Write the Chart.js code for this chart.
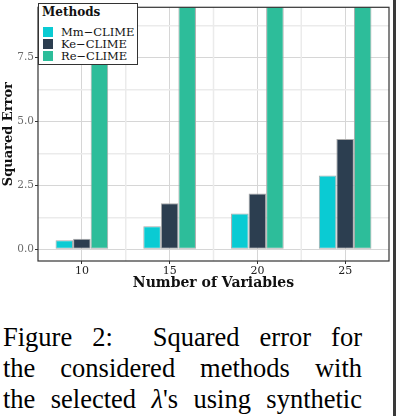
<!DOCTYPE html>
<html>
<head>
<meta charset="utf-8">
<script src="https://cdn.jsdelivr.net/npm/chart.js@4"></script>
<style>
  body { margin: 0; background: #fff; width: 396px; height: 416px; position: relative; overflow: hidden; }
  #wrap { position: absolute; left: 0; top: 0; width: 396px; height: 300px; }
  #legend { position: absolute; left: 38px; top: 3px; width: 100px; height: 62px; box-sizing: border-box;
    border: 1.5px solid #333; background: #fff; font-family: "DejaVu Serif", serif; color: #111; }
  #legend .ttl { position: absolute; left: 3px; top: 1px; font-weight: bold; font-size: 12px; }
  #legend .item { position: absolute; left: 4px; height: 10px; font-size: 11.5px; line-height: 10px; white-space: nowrap; }
  #legend .sw { display: inline-block; width: 10px; height: 10px; vertical-align: top; margin-right: 8px; }
  #caption { position: absolute; left: 3px; top: 322px; width: 359px; font-family: "Liberation Serif", serif;
    font-size: 26.5px; line-height: 31px; color: #000; }
  #caption div { text-align: justify; text-align-last: justify; }
  #edge { position: absolute; left: 393px; top: 0; width: 3px; height: 416px; background: #3a3a3a; }
</style>
</head>
<body>
<div id="wrap"><canvas id="chart" width="396" height="300"></canvas></div>
<div id="legend"><div class="ttl">Methods</div></div>
<div id="caption">
  <div>Figure 2:&nbsp; Squared error for</div>
  <div>the considered methods with</div>
  <div>the selected <i>λ</i>'s using synthetic</div>
</div>
<div id="edge"></div>
<script>
const categories = ['10', '15', '20', '25'];
const seriesNames = ['Mm\u2212CLIME', 'Ke\u2212CLIME', 'Re\u2212CLIME'];
const mmClime = [0.35, 0.90, 1.40, 2.88];
const keClime = [0.41, 1.80, 2.18, 4.31];
const reClime = [12.0, 15.0, 18.0, 22.0];   // run off the top of the panel
const yTicks = [0, 1.25, 2.5, 3.75, 5, 6.25, 7.5, 8.75];
const colors = ['#0acbd3', '#2c3e50', '#2dbd9a'];

const serif = '"DejaVu Serif", serif';
const isMajor = v => Math.abs(v / 2.5 - Math.round(v / 2.5)) < 1e-6;

// minor vertical grid lines between categories + full panel border
const panelPlugin = {
    id: 'panel',
    beforeDatasetsDraw(chart) {
        const { ctx, chartArea, scales: { x } } = chart;
        ctx.save();
        ctx.strokeStyle = '#ebebeb';
        ctx.lineWidth = 1.5;
        for (let i = 0; i < categories.length - 1; i++) {
            const px = (x.getPixelForValue(i) + x.getPixelForValue(i + 1)) / 2;
            ctx.beginPath();
            ctx.moveTo(px, chartArea.top);
            ctx.lineTo(px, chartArea.bottom);
            ctx.stroke();
        }
        ctx.restore();
    },
    afterDraw(chart) {
        const { ctx, chartArea: a } = chart;
        ctx.save();
        ctx.strokeStyle = '#333';
        ctx.lineWidth = 1.2;
        ctx.strokeRect(a.left, a.top, a.right - a.left, a.bottom - a.top);
        ctx.restore();
    }
};

const chart = new Chart(document.getElementById('chart'), {
    type: 'bar',
    data: {
        labels: categories,
        datasets: [mmClime, keClime, reClime].map((d, i) => ({
            label: seriesNames[i],
            data: d,
            backgroundColor: colors[i],
            borderColor: '#a9a9a9',
            borderWidth: 1,
            borderSkipped: false,
            categoryPercentage: 0.6,
            barPercentage: 1.0
        }))
    },
    options: {
        responsive: false,
        devicePixelRatio: 1,
        animation: false,
        layout: { padding: { left: 0, top: 3, right: 7, bottom: 0 } },
        plugins: { legend: { display: false }, tooltip: { enabled: false } },
        scales: {
            x: {
                grid: { offset: false, color: '#d6d6d6', lineWidth: 1, tickLength: 3, tickColor: '#333' },
                border: { display: false },
                ticks: { color: '#222', font: { family: serif, size: 11 }, padding: 1, maxRotation: 0 },
                title: { display: true, text: 'Number of Variables', color: '#111',
                    font: { family: serif, size: 14, weight: 'bold' }, padding: { top: 0, bottom: 8 } },
                afterFit: s => { s.height = 39; }
            },
            y: {
                min: -0.46,
                max: 9.46,
                afterBuildTicks: s => { s.ticks = yTicks.map(v => ({ value: v })); },
                grid: {
                    color: c => isMajor(c.tick.value) ? '#d6d6d6' : '#ebebeb',
                    lineWidth: c => isMajor(c.tick.value) ? 1 : 1.5,
                    tickLength: 3,
                    tickColor: c => isMajor(c.tick.value) ? '#333' : 'rgba(0,0,0,0)'
                },
                border: { display: false },
                ticks: {
                    color: '#6a6a6a', font: { family: serif, size: 10.5 }, padding: 1,
                    callback: v => isMajor(v) ? v.toFixed(1) : ''
                },
                title: { display: true, text: 'Squared Error', color: '#111',
                    font: { family: serif, size: 13, weight: 'bold' }, padding: { top: 1, bottom: 0 } },
                afterFit: s => { s.width = 38; }
            }
        }
    },
    plugins: [panelPlugin]
});

// legend built from the same series
const legend = document.getElementById('legend');
seriesNames.forEach((name, i) => {
    const item = document.createElement('div');
    item.className = 'item';
    item.style.top = (23 + 12 * i) + 'px';
    item.innerHTML = `<span class="sw" style="background:${colors[i]}"></span>${name}`;
    legend.appendChild(item);
});
</script>
</body>
</html>
